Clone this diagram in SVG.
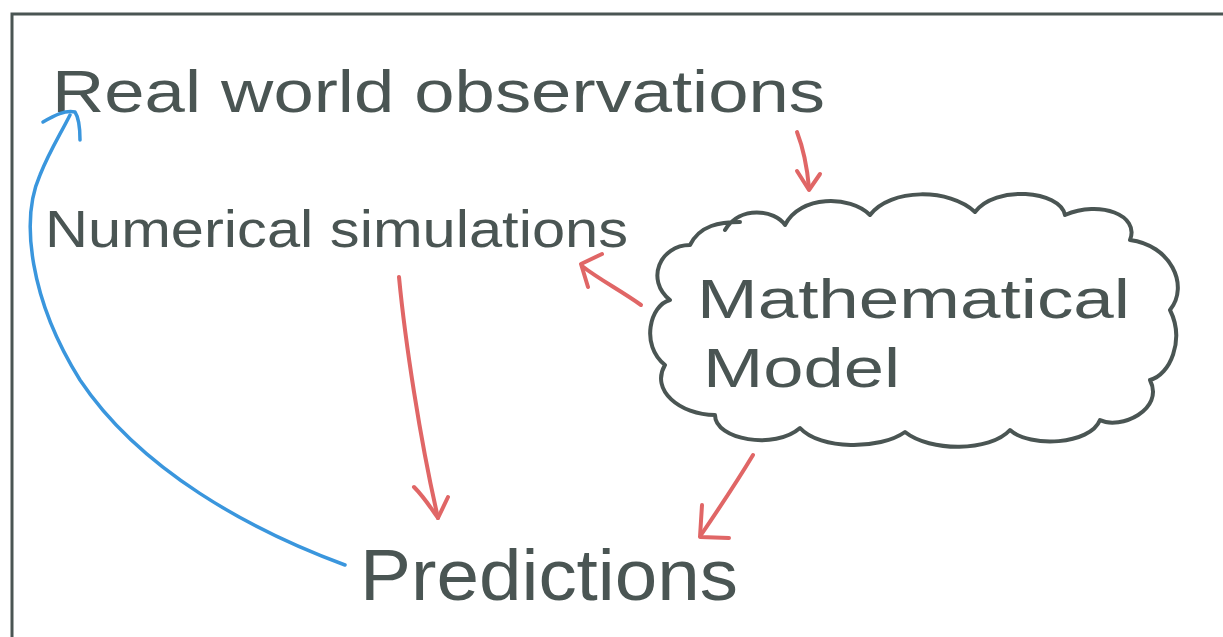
<svg xmlns="http://www.w3.org/2000/svg" width="1223" height="637" viewBox="0 0 1223 637">
<style>
.t{font-family:"Liberation Sans",Arial,sans-serif;fill:#4a5553;font-weight:normal}
.r{fill:none;stroke:#e06666;stroke-width:4;stroke-linecap:round;stroke-linejoin:round}
.b{fill:none;stroke:#3a96dd;stroke-width:3.5;stroke-linecap:round;stroke-linejoin:round}
.c{fill:none;stroke:#4a5553;stroke-width:4;stroke-linecap:round;stroke-linejoin:round}
</style>
<rect width="1223" height="637" fill="#ffffff"/>
<path d="M12 637 L12 14 L1223 14" fill="none" stroke="#4a5553" stroke-width="3"/>
<g id="real-world-observations">
<text class="t" x="52" y="112" font-size="60" textLength="773" lengthAdjust="spacingAndGlyphs">Real world observations</text>
</g>
<g id="numerical-simulations">
<text class="t" x="45" y="247" font-size="52" textLength="583" lengthAdjust="spacingAndGlyphs">Numerical simulations</text>
</g>
<g id="mathematical-model">
<path class="c" d="M725 230 C740 205 775 210 785 225 C800 195 850 195 870 215 C890 188 950 188 975 212 C995 185 1060 190 1065 215 C1100 200 1140 215 1130 240 C1170 245 1190 285 1170 310 C1185 340 1170 375 1150 380 C1165 410 1120 430 1100 420 C1090 445 1030 448 1010 430 C990 452 930 452 905 432 C880 450 820 450 800 428 C775 450 715 440 715 415 C680 415 650 390 665 365 C640 345 650 305 670 300 C645 280 660 245 690 245 C700 225 720 222 740 222"/>
<text class="t" x="697" y="318" font-size="56" textLength="433" lengthAdjust="spacingAndGlyphs">Mathematical</text>
<text class="t" x="703" y="387" font-size="56" textLength="197" lengthAdjust="spacingAndGlyphs">Model</text>
</g>
<g id="predictions">
<text class="t" x="360" y="600" font-size="72" textLength="378" lengthAdjust="spacingAndGlyphs">Predictions</text>
</g>
<g id="connectors">
<path class="r" d="M797 132 C802 145 807 165 809 188"/>
<path class="r" d="M797 171 L809 190 L820 174"/>
<path class="r" d="M641 305 C620 290 600 280 582 266"/>
<path class="r" d="M602 254 L581 264 L588 287"/>
<path class="r" d="M399 277 C405 340 420 440 438 518"/>
<path class="r" d="M414 487 C425 498 432 510 438 518 L448 497"/>
<path class="r" d="M753 455 C735 485 718 510 701 535"/>
<path class="r" d="M702 505 L700 537 L729 538"/>
<path class="b" d="M345 565 C250 530 140 470 80 380 C30 300 20 220 40 175 C50 150 60 135 70 115"/>
<path class="b" d="M43 122 C55 115 65 110 75 112 C79 118 80 130 80 140"/>
</g>
</svg>
